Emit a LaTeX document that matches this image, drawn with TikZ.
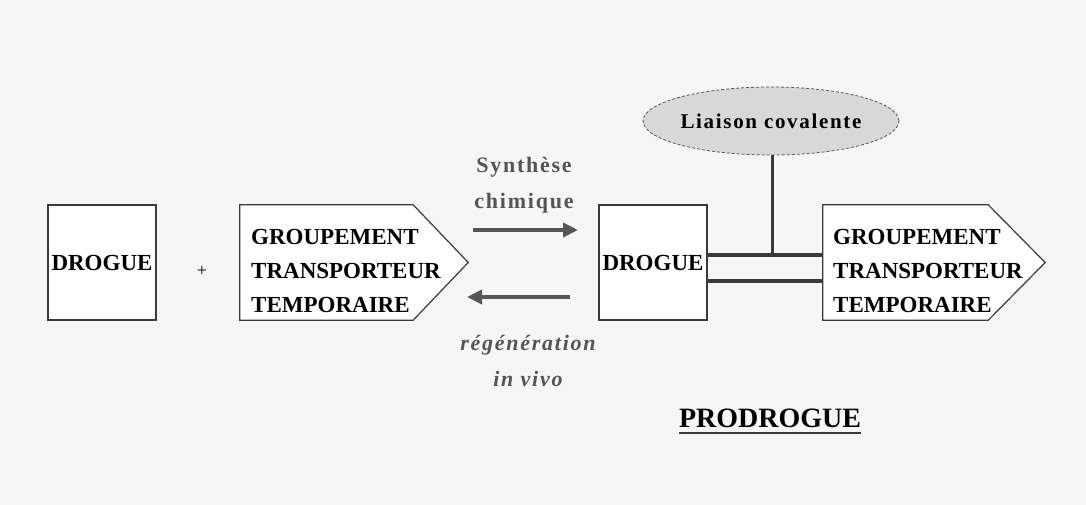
\documentclass[tikz,border=0pt]{standalone}
\usepackage{fontspec}
\setmainfont{Liberation Serif}
\newfontfamily\spacedfont[LetterSpace=8]{Liberation Serif}
\usetikzlibrary{arrows.meta,shapes.geometric}
\definecolor{bgc}{HTML}{F6F6F6}
\definecolor{edge}{HTML}{3A3A3A}
\definecolor{arr}{HTML}{555555}
\definecolor{ellfill}{HTML}{D8D8D8}
\tikzset{
  boxnode/.style={draw=edge, line width=1.2pt, fill=white, minimum width=108pt, minimum height=115pt, inner sep=0pt},
  frame/.style={draw=none, minimum width=#1, minimum height=115pt, inner sep=0pt},
  pent/.style={draw=edge, line width=1.2pt, fill=white},
  lbl/.style={font=\bfseries\fontsize{23}{34}\selectfont, inner sep=0pt, text=black},
  grouptext/.style={lbl, align=left, anchor=west},
  arrowtext/.style={font=\bfseries\fontsize{22}{36}\selectfont, text=arr, inner sep=0pt, align=center},
  bigarrow/.style={draw=arr, line width=4pt, -{Triangle[length=15pt,width=14pt]}},
  bond/.style={draw=edge, line width=3.2pt},
}
\begin{document}
\begin{tikzpicture}[x=1pt,y=-1pt]
\useasboundingbox (0,0) rectangle (1086,505);
\fill[bgc] (0,0) rectangle (1086,505);

% left DROGUE
\node[boxnode, lbl] (d1) at (102,262.5) {DROGUE};
\node[lbl, font=\fontsize{18}{20}\selectfont] (plus) at (202,271) {+};

% left pentagon
\node[frame=228pt] (g1) at (354,262.5) {};
\draw[pent] (g1.north west) -- ([xshift=-55pt]g1.north east) -- (g1.east) -- ([xshift=-55pt]g1.south east) -- (g1.south west) -- cycle;
\node[grouptext] (t1) at (251,271) {GROUPEMENT\\TRANSPORTEUR\\TEMPORAIRE};

% arrows
\coordinate (a1s) at (473,230);
\coordinate (a1e) at (578,230);
\coordinate (a2s) at (570,297);
\coordinate (a2e) at (467,297);
\draw[bigarrow] (a1s) -- (a1e);
\draw[bigarrow] (a2s) -- (a2e);
\node[arrowtext] (syn) at (524,185) {{\spacedfont Synthèse}\\{\spacedfont chimique}};
\node[arrowtext, font=\bfseries\itshape\fontsize{22}{36}\selectfont] (reg) at (528,361) {{\spacedfont régénération}\\{\spacedfont in vivo}};

% right DROGUE
\node[boxnode, lbl] (d2) at (653,262.5) {DROGUE};

% right pentagon
\node[frame=222pt] (g2) at (934,262.5) {};
\draw[pent] (g2.north west) -- ([xshift=-57pt]g2.north east) -- (g2.east) -- ([xshift=-57pt]g2.south east) -- (g2.south west) -- cycle;
\node[grouptext] (t2) at (833,271) {GROUPEMENT\\TRANSPORTEUR\\TEMPORAIRE};

% double bond
\draw[bond] ([yshift=7.5pt]d2.east) -- ([yshift=7.5pt]g2.west);
\draw[bond] ([yshift=-18.5pt]d2.east) -- ([yshift=-18.5pt]g2.west);

% ellipse
\node[ellipse, draw=arr, densely dashed, line width=0.8pt, fill=ellfill, minimum width=248pt, minimum height=68pt, inner sep=0pt, font=\bfseries\fontsize{21}{24}\selectfont] (cov) at (771,121) {\spacedfont Liaison covalente};
\coordinate (bondpt) at (772,255);
\draw[draw=edge, line width=3pt] (cov.south -| bondpt) -- (bondpt);

% PRODROGUE
\node[lbl, font=\bfseries\fontsize{28}{32}\selectfont, anchor=base] (pro) at (770,427) {PRODROGUE};
\draw[edge, line width=2pt] ([yshift=-6pt]pro.base west) -- ([yshift=-6pt]pro.base east);
\end{tikzpicture}
\end{document}
